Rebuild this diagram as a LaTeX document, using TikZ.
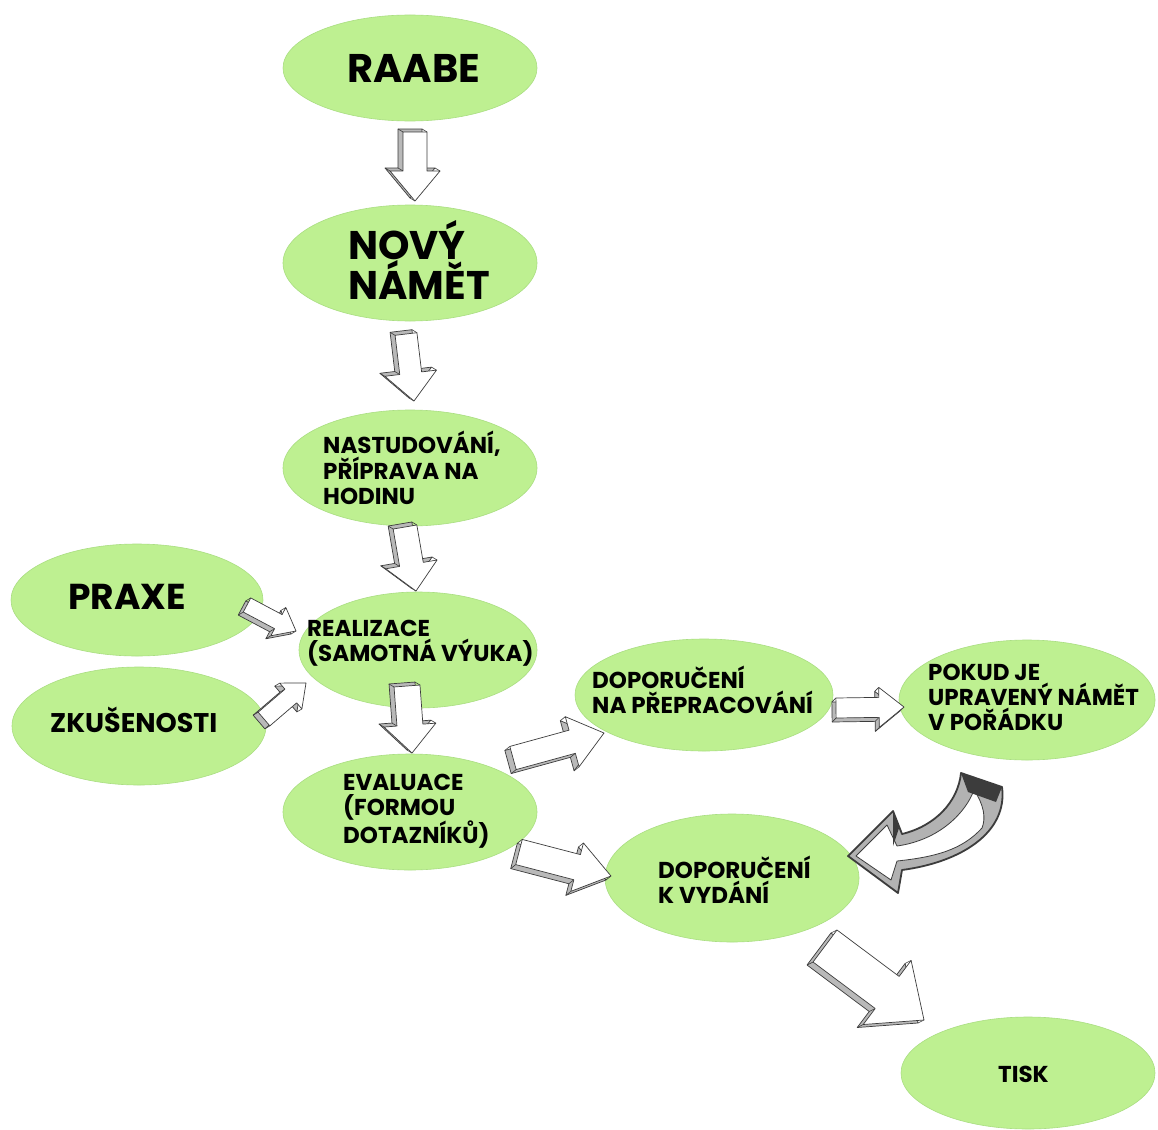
\documentclass[tikz,border=0pt]{standalone}
\usepackage{fontspec}
\setmainfont{Poppins}
\usetikzlibrary{shapes.geometric,calc}
\definecolor{ellfill}{RGB}{190,240,145}
\definecolor{elldraw}{RGB}{170,222,130}
\definecolor{sketch}{RGB}{60,60,60}
\tikzset{
  ell/.style={ellipse, fill=ellfill, draw=elldraw, line width=0.6pt, inner sep=0pt},
  lbl/.style={anchor=west, inner sep=0pt, align=left, text=black},
  small/.style={font=\bfseries\fontsize{23}{25}\selectfont},
  big/.style={font=\bfseries\fontsize{40}{40}\selectfont},
  arrfront/.style={fill=white, draw=sketch, line width=0.7pt, line join=round},
  arrside/.style={fill=gray!55, draw=sketch, line width=0.7pt, line join=round},
  arredge/.style={draw=sketch, line width=0.6pt},
}
% #1 start, #2 end, #3 shaft half width, #4 head half width, #5 head length, #6 depth offset
\newcommand{\fatarrow}[6]{%
  \path ($(#2)!#5!(#1)$) coordinate (fah);
  \path ($(#1)!#3!90:(#2)$) coordinate (fa1)
        ($(fah)!#3!-90:(#1)$) coordinate (fa2)
        ($(fah)!#4!-90:(#1)$) coordinate (fa3)
        (#2) coordinate (fa4)
        ($(fah)!#4!90:(#1)$) coordinate (fa5)
        ($(fah)!#3!90:(#1)$) coordinate (fa6)
        ($(#1)!#3!-90:(#2)$) coordinate (fa7);
  \filldraw[arrside] ([shift={#6}]fa1) -- ([shift={#6}]fa2) -- ([shift={#6}]fa3) -- ([shift={#6}]fa4) -- ([shift={#6}]fa5) -- ([shift={#6}]fa6) -- ([shift={#6}]fa7) -- cycle;
  \foreach \i in {1,...,7} {\draw[arredge] (fa\i) -- ([shift={#6}]fa\i);}
  \filldraw[arrfront] (fa1) -- (fa2) -- (fa3) -- (fa4) -- (fa5) -- (fa6) -- (fa7) -- cycle;
}
\begin{document}
\begin{tikzpicture}[x=1pt,y=-1pt]
\useasboundingbox (0,0) rectangle (1158,1129);
\fill[white] (0,0) rectangle (1158,1129);

% ellipses
\node[ell, minimum width=254pt, minimum height=106pt] (raabe) at (410,68) {};
\node[ell, minimum width=254pt, minimum height=116pt] (novy) at (410,263) {};
\node[ell, minimum width=254pt, minimum height=116pt] (nast) at (410,468) {};
\node[ell, minimum width=238pt, minimum height=116pt] (real) at (418,650) {};
\node[ell, minimum width=252pt, minimum height=112pt] (praxe) at (137,600) {};
\node[ell, minimum width=254pt, minimum height=118pt] (zkus) at (139,726) {};
\node[ell, minimum width=254pt, minimum height=116pt] (eval) at (410,812) {};
\node[ell, minimum width=258pt, minimum height=112pt] (dopp) at (704,695) {};
\node[ell, minimum width=256pt, minimum height=120pt] (pokud) at (1027,700) {};
\node[ell, minimum width=254pt, minimum height=128pt] (dopk) at (732,878) {};
\node[ell, minimum width=254pt, minimum height=112pt] (tisk) at (1028,1073) {};

% texts
\node[lbl, big] (raabe-t) at (347,68) {RAABE};
\node[lbl, big] (novy-t) at (348,260) {NOVÝ\\NÁMĚT};
\node[lbl, small] (nast-t) at (323,468) {NASTUDOVÁNÍ,\\PŘÍPRAVA NA\\HODINU};
\node[lbl, small] (real-t) at (307,643) {REALIZACE\\(SAMOTNÁ VÝUKA)};
\node[lbl, font=\bfseries\fontsize{36}{40}\selectfont] (praxe-t) at (68,597) {PRAXE};
\node[lbl, font=\bfseries\fontsize{27}{30}\selectfont] (zkus-t) at (50,720) {ZKUŠENOSTI};
\node[lbl, small] (eval-t) at (343,811) {EVALUACE\\(FORMOU\\DOTAZNÍKŮ)};
\node[lbl, small] (dopp-t) at (592,690) {DOPORUČENÍ\\NA PŘEPRACOVÁNÍ};
\node[lbl, small] (pokud-t) at (928,697) {POKUD JE\\UPRAVENÝ NÁMĚT\\V POŘÁDKU};
\node[lbl, small] (dopk-t) at (658,880) {DOPORUČENÍ\\K VYDÁNÍ};
\node[lbl, small] (tisk-t) at (998,1074) {TISK};

% arrow end points
\coordinate (a1s) at (415,132);  \coordinate (a1e) at (415,201);
\coordinate (a2s) at (406,334);  \coordinate (a2e) at (414,401);
\coordinate (a3s) at (405,527);  \coordinate (a3e) at (416,591);
\coordinate (a4s) at (407,686);  \coordinate (a4e) at (412,753);
\coordinate (a5s) at (247,605);  \coordinate (a5e) at (296,631);
\coordinate (a6s) at (264,719);  \coordinate (a6e) at (306,683);
\coordinate (a7s) at (513,758);  \coordinate (a7e) at (604,733);
\coordinate (a8s) at (519,852);  \coordinate (a8e) at (611,876);
\coordinate (a9s) at (836,708);  \coordinate (a9e) at (904,707);
\coordinate (a10s) at (825,946); \coordinate (a10e) at (924,1020);

\fatarrow{a1s}{a1e}{12pt}{25pt}{30pt}{(-5,-3)}
\fatarrow{a2s}{a2e}{11pt}{26pt}{28pt}{(-5,-3)}
\fatarrow{a3s}{a3e}{12pt}{26pt}{27pt}{(-5,-3)}
\fatarrow{a4s}{a4e}{13pt}{26pt}{28pt}{(-5,-3)}
\fatarrow{a5s}{a5e}{8pt}{16pt}{20pt}{(-5,3)}
\fatarrow{a6s}{a6e}{9pt}{17pt}{20pt}{(-5,3)}
\fatarrow{a7s}{a7e}{12pt}{26pt}{33pt}{(-5,4)}
\fatarrow{a8s}{a8e}{13pt}{25pt}{35pt}{(-5,4)}
\fatarrow{a9s}{a9e}{10pt}{20pt}{25pt}{(-4,4)}
\fatarrow{a10s}{a10e}{20pt}{40pt}{46pt}{(-6,3)}

% curved arrow from pokud to dopk
\coordinate (cT) at (848,856);
\coordinate (cU) at (893,811);
\coordinate (cV) at (898,893);
\coordinate (cIn) at (902,834);
\coordinate (cOut) at (902,870);
\coordinate (cTopIn) at (961,773);
\coordinate (cTopOut) at (1002,787);
\filldraw[fill=gray!60, draw=sketch, line width=1.8pt, line join=round]
  (cT) -- (cU) -- (cIn) .. controls (935,826) and (958,802) .. (cTopIn)
  -- (cTopOut) .. controls (1008,832) and (962,862) .. (cOut) -- (cV) -- cycle;
\filldraw[fill=white, draw=sketch, line width=0.8pt, line join=round]
  (856,856) -- (887,825) -- (897,846) .. controls (940,840) and (966,812) .. (974,790)
  .. controls (984,805) and (986,818) .. (982,828)
  .. controls (962,850) and (935,857) .. (897,861) -- (891,880) -- cycle;
\fill[sketch] (cTopIn) -- (cTopOut) -- (996,802) -- (968,792) -- cycle;
\fill[sketch] (cU) -- (899,828) -- (893,846) -- cycle;
\end{tikzpicture}
\end{document}
